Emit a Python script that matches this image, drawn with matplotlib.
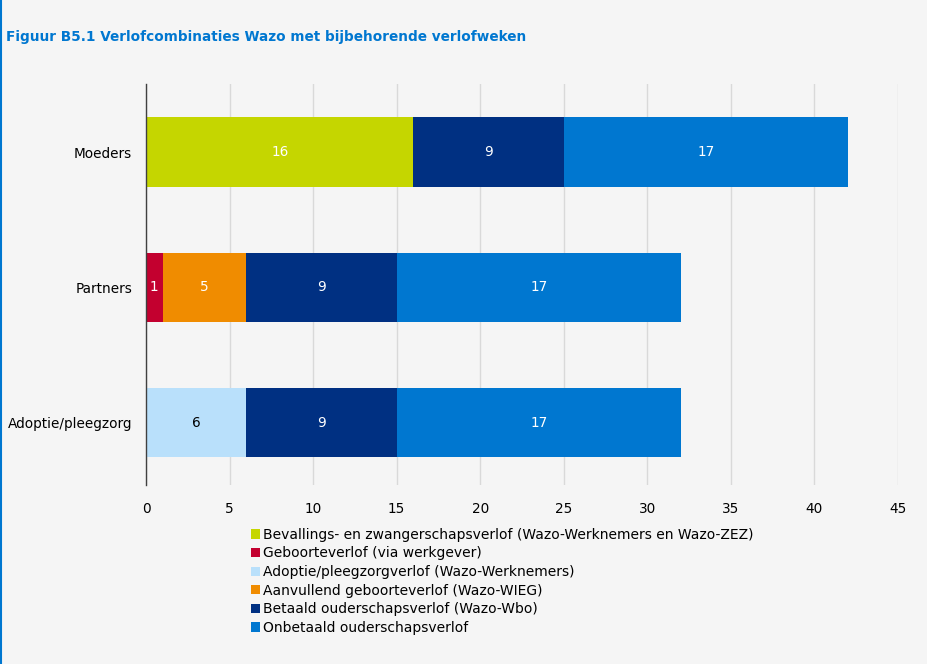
import numpy as np
import matplotlib.pyplot as plt
from matplotlib.patches import Patch

# data
groepen = ["Moeders", "Partners", "Adoptie/pleegzorg"]
reeksen = [
    "Bevallings- en zwangerschapsverlof (Wazo-Werknemers en Wazo-ZEZ)",
    "Geboorteverlof (via werkgever)",
    "Adoptie/pleegzorgverlof (Wazo-Werknemers)",
    "Aanvullend geboorteverlof (Wazo-WIEG)",
    "Betaald ouderschapsverlof (Wazo-Wbo)",
    "Onbetaald ouderschapsverlof",
]
bevalling = [16, 0, 0]
geboorte = [0, 1, 0]
adoptie = [0, 0, 6]
aanvullend = [0, 5, 0]
betaald = [9, 9, 9]
onbetaald = [17, 17, 17]
xticks = [0, 5, 10, 15, 20, 25, 30, 35, 40, 45]

kleuren = ["#c5d600", "#c3002f", "#b9e0fb", "#f08c00", "#003082", "#0077d0"]
tekstkleur = ["white", "white", "black", "white", "white", "white"]

bg = "#f5f5f5"
fig = plt.figure(figsize=(9.27, 6.64), dpi=100, facecolor=bg)
ax = fig.add_axes([0.1575, 0.2696, 0.8112, 0.6034], facecolor=bg)

y = np.arange(len(groepen))
links = np.zeros(len(groepen))
for waarden, kleur, tk in zip([bevalling, geboorte, adoptie, aanvullend, betaald, onbetaald],
                              kleuren, tekstkleur):
    w = np.array(waarden, dtype=float)
    bars = ax.barh(y, w, left=links, height=0.51, color=kleur, zorder=3)
    for b, v in zip(bars, w):
        if v > 0:
            ax.text(b.get_x() + b.get_width() / 2, b.get_y() + b.get_height() / 2,
                    f"{int(v)}", ha="center", va="center", color=tk, fontsize=9.8, zorder=4)
    links += w

ax.set_xlim(0, 45)
ax.set_ylim(2.46, -0.5)
ax.set_xticks(xticks)
ax.set_yticks(y)
ax.set_yticklabels(groepen)
ax.tick_params(axis="both", length=0, labelsize=9.8, colors="black")
ax.tick_params(axis="x", pad=12)
ax.tick_params(axis="y", pad=10)
ax.grid(axis="x", color="#d9d9d9", linewidth=1, zorder=0)
for s in ["top", "right", "bottom"]:
    ax.spines[s].set_visible(False)
ax.spines["left"].set_color("#404040")
ax.spines["left"].set_linewidth(1)
ax.spines["left"].set_zorder(5)

fig.text(0.007, 0.945, "Figuur B5.1 Verlofcombinaties Wazo met bijbehorende verlofweken",
         color="#0077d0", fontsize=9.8, fontweight="bold", ha="left", va="center")

handles = [Patch(facecolor=k, edgecolor="none") for k in kleuren]
fig.legend(handles, reeksen, loc="upper left", bbox_to_anchor=(0.271, 0.205),
           frameon=False, fontsize=10, handlelength=0.65, handleheight=0.65,
           handletextpad=0.2, labelspacing=0.33, borderpad=0, borderaxespad=0)

# blauwe rand links
fig.add_artist(plt.Line2D([0.001, 0.001], [0, 1], color="#0077d0", linewidth=1.5))

fig.savefig("out.png", dpi=100, facecolor=bg)
